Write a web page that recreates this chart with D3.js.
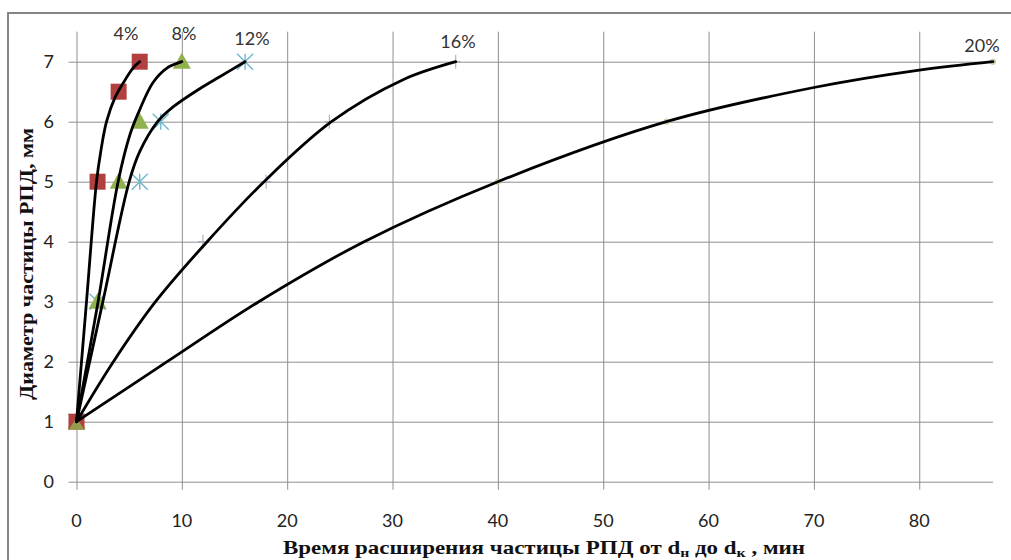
<!DOCTYPE html>
<html><head><meta charset="utf-8">
<script src="https://cdn.jsdelivr.net/npm/d3@7"></script>
<style>body{margin:0;background:#fff;} svg{display:block;}</style>
</head><body>
<svg id="c" width="1011" height="560"></svg>
<script>
const seriesLabels = ["4%", "8%", "12%", "16%", "20%"];
// measured points (markers)
const time4 = [0, 2, 4, 6];          const diam4 = [1, 5, 6.5, 7];
const time8 = [0, 2, 4, 6, 10];      const diam8 = [1, 3, 5, 6, 7];
const time12 = [0, 2, 6, 8, 16];     const diam12 = [1, 3, 5, 6, 7];
const time16 = [0, 12, 18, 24, 36];  const diam16 = [1, 4, 5, 6, 7];
const time20 = [0, 40, 56, 87];      const diam20 = [1, 5, 6, 7];
// smoothed black curves
const curveT4 = [0, 0.95, 1.9, 2.3, 2.85, 3.65, 4.45, 5.4, 6];
const curveD4 = [1, 3, 5, 5.5, 6, 6.4, 6.65, 6.9, 7];
const curveT8 = [0, 2.05, 3.95, 5.1, 6.0, 7.25, 8.55, 10];
const curveD8 = [1, 3, 5, 5.8, 6.2, 6.65, 6.89, 7];
const curveT12 = [0, 2.5, 5.0, 6.0, 7.7, 9.2, 11.7, 13.6, 16];
const curveD12 = [1, 3, 5, 5.5, 6, 6.25, 6.55, 6.75, 7];
const curveT16 = [0, 3.5, 7.5, 12.4, 17.8, 24.2, 31, 36];
const curveD16 = [1, 2, 3, 4, 5, 6, 6.7, 7];
const curveT20 = [0, 8.6, 17.3, 27.3, 40, 56, 70, 80, 87];
const curveD20 = [1, 2, 3, 4, 5, 6, 6.57, 6.86, 7];
const xTicks = [0, 10, 20, 30, 40, 50, 60, 70, 80];
const yTicks = [0, 1, 2, 3, 4, 5, 6, 7];
const xDomain = [0, 87];
const yDomain = [0, 7.5];

const svg = d3.select("#c");
const x = d3.scaleLinear().domain(xDomain).range([76.5, 993]);
const y = d3.scaleLinear().domain(yDomain).range([481.7, 31.7]);

// outer border
svg.append("rect").attr("x", 8).attr("y", 13).attr("width", 1100).attr("height", 600)
  .attr("fill", "none").attr("stroke", "#858585").attr("stroke-width", 2);

// gridlines via axes
const gx = svg.append("g").attr("transform", `translate(0,${y(0)})`)
  .call(d3.axisBottom(x).tickValues(xTicks).tickSize(-(y(0) - y(yDomain[1]))).tickPadding(0).tickFormat(""));
gx.select(".domain").remove();
gx.selectAll("line").attr("stroke", "#8f8f8f").attr("y2", -(y(0) - y(yDomain[1]))).attr("y1", 8);

const gy = svg.append("g").attr("transform", `translate(${x(0)},0)`)
  .call(d3.axisLeft(y).tickValues(yTicks).tickSize(-(x(xDomain[1]) - x(0))).tickFormat(""));
gy.select(".domain").remove();
gy.selectAll("line").attr("stroke", "#8f8f8f").attr("x1", -8);

// tick labels
const font = "Lato, 'Open Sans', sans-serif";
svg.append("g").selectAll("text").data(xTicks).join("text")
  .attr("x", d => x(d)).attr("y", 526.5).attr("text-anchor", "middle")
  .attr("font-family", font).attr("font-size", 18).attr("fill", "#222").text(d => d);
svg.append("g").selectAll("text").data(yTicks).join("text")
  .attr("x", 54).attr("y", d => y(d)).attr("dy", "0.35em").attr("text-anchor", "end")
  .attr("font-family", font).attr("font-size", 18).attr("fill", "#222").text(d => d);

// axis titles
svg.append("text").attr("transform", "translate(33,264) rotate(-90)")
  .attr("text-anchor", "middle").attr("font-family", "'Liberation Serif', serif")
  .attr("font-weight", "bold").attr("font-size", 19).attr("fill", "#111")
  .attr("textLength", 272).attr("lengthAdjust", "spacingAndGlyphs")
  .text("Диаметр частицы РПД, мм");

const xt = svg.append("text").attr("x", 283).attr("y", 554)
  .attr("font-family", "'Liberation Serif', serif")
  .attr("font-weight", "bold").attr("font-size", 19).attr("fill", "#111")
  .attr("textLength", 522).attr("lengthAdjust", "spacingAndGlyphs");
xt.append("tspan").text("Время расширения частицы РПД от d");
xt.append("tspan").attr("font-size", 13).attr("dy", 3).text("н");
xt.append("tspan").attr("dy", -3).text(" до d");
xt.append("tspan").attr("font-size", 13).attr("dy", 3).text("к");
xt.append("tspan").attr("dy", -3).text(" , мин");

const zip = (a, b) => a.map((v, i) => [v, b[i]]);
const data = [zip(time4, diam4), zip(time8, diam8), zip(time12, diam12), zip(time16, diam16), zip(time20, diam20)];
const curves = [zip(curveT4, curveD4), zip(curveT8, curveD8), zip(curveT12, curveD12), zip(curveT16, curveD16), zip(curveT20, curveD20)];

// markers
const mk = svg.append("g");
// 20% circles
mk.selectAll(".c20").data(data[4]).join("circle").attr("cx", d => x(d[0])).attr("cy", d => y(d[1]))
  .attr("r", 2.8).attr("fill", "#d8dcb4").attr("stroke", "#c8cc9c").attr("stroke-width", 0.8);
// 16% plus
data[3].forEach(d => {
  const cx = x(d[0]), cy = y(d[1]);
  mk.append("path").attr("d", `M${cx-5},${cy}H${cx+5}M${cx},${cy-7}V${cy+7}`)
    .attr("stroke", "#9aa6b8").attr("stroke-width", 1).attr("fill", "none");
});
// 12% asterisks
data[2].forEach(d => {
  const cx = x(d[0]), cy = y(d[1]), r = 8;
  mk.append("path").attr("d", `M${cx-r},${cy-r}L${cx+r},${cy+r}M${cx-r},${cy+r}L${cx+r},${cy-r}M${cx},${cy-r}V${cy+r}`)
    .attr("stroke", "#6fb7cc").attr("stroke-width", 1.4).attr("fill", "none");
});
// 8% triangles
mk.selectAll(".t8").data(data[1]).join("path")
  .attr("transform", d => `translate(${x(d[0])},${y(d[1])})`)
  .attr("d", "M0,-9L9,7L-9,7Z").attr("fill", "#8fb24f");
// 4% squares
mk.selectAll(".s4").data(data[0]).join("rect")
  .attr("x", d => x(d[0]) - 8).attr("y", d => y(d[1]) - 8).attr("width", 16).attr("height", 16)
  .attr("fill", "#b2403e");
// overlapping triangle on square at origin
mk.append("path").attr("transform", `translate(${x(time8[0])},${y(diam8[0]) + 2})`)
  .attr("d", "M0,-6L8,6L-8,6Z").attr("fill", "#8fb24f").attr("opacity", 0.8);

// curves
const line = d3.line().x(d => x(d[0])).y(d => y(d[1])).curve(d3.curveCatmullRom.alpha(0.5));
svg.append("g").selectAll("path").data(curves).join("path")
  .attr("d", line).attr("fill", "none").attr("stroke", "#000").attr("stroke-width", 2.8)
  .attr("stroke-linecap", "round").attr("stroke-linejoin", "round");

// series labels
const labelPos = [[126, 40], [184, 40], [252, 45], [458, 48], [982, 52]];
svg.append("g").selectAll("text").data(seriesLabels).join("text")
  .attr("x", (d, i) => labelPos[i][0]).attr("y", (d, i) => labelPos[i][1])
  .attr("text-anchor", "middle").attr("font-family", font).attr("font-size", 18)
  .attr("fill", "#333").text(d => d);
</script>
</body></html>
